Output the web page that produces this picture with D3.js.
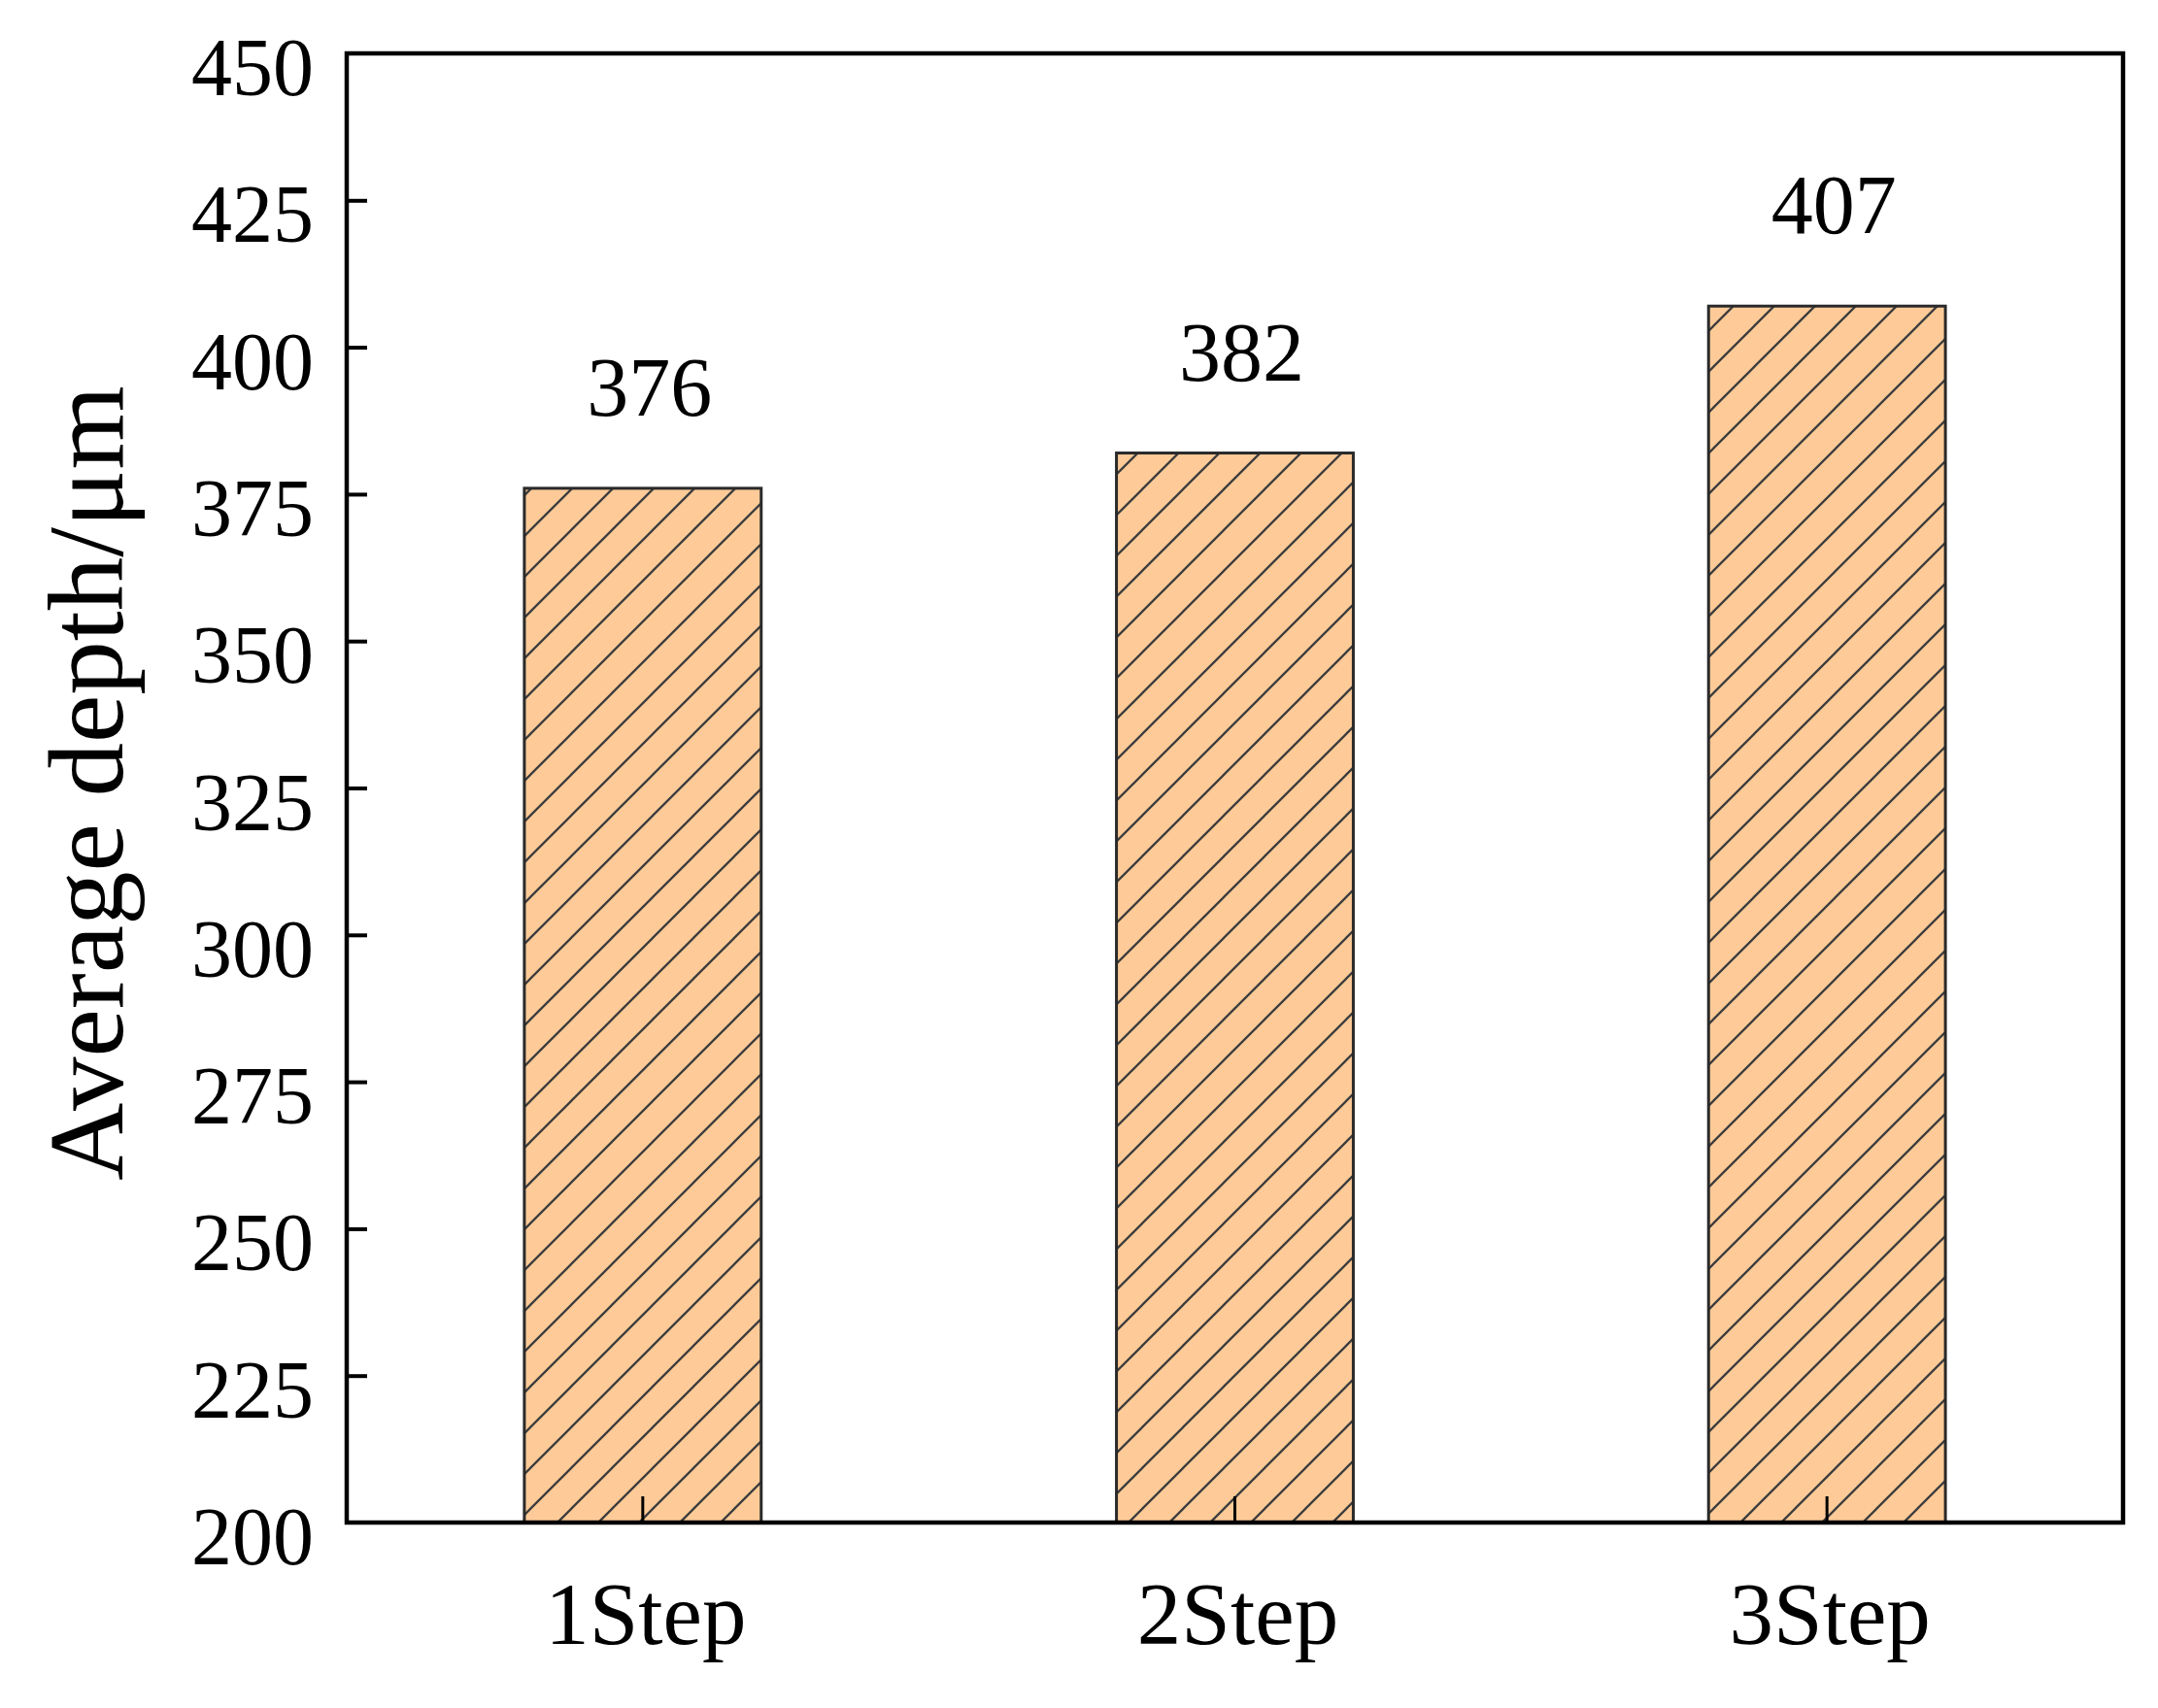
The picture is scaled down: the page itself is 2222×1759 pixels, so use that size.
<!DOCTYPE html>
<html>
<head>
<meta charset="utf-8">
<script src="https://cdn.jsdelivr.net/npm/d3@7"></script>
<style>
  html, body { margin: 0; padding: 0; background: #fff; }
  svg { display: block; }
  text { font-family: "Liberation Serif", "Times New Roman", serif; fill: #000; }
</style>
</head>
<body>
<svg id="chart" width="2222" height="1759"></svg>
<script>
const categories = ["1Step", "2Step", "3Step"];
const values = [376, 382, 407];
const yTicks = [200, 225, 250, 275, 300, 325, 350, 375, 400, 425, 450];
const yLabel = "Average depth/μm";

const W = 2222, H = 1759;
const margin = { left: 357, right: W - 2186, top: 55, bottom: H - 1568 };

const svg = d3.select("#chart");

const x = d3.scaleBand()
  .domain(categories)
  .range([margin.left, W - margin.right])
  .paddingInner(0.6)
  .paddingOuter(0.3);

const y = d3.scaleLinear()
  .domain([200, 450])
  .range([H - margin.bottom, margin.top]);

// hatch pattern
const defs = svg.append("defs");
const pat = defs.append("pattern")
  .attr("id", "hatch")
  .attr("patternUnits", "userSpaceOnUse")
  .attr("width", 42)
  .attr("height", 42);
pat.append("rect").attr("width", 42).attr("height", 42).attr("fill", "#FECB98");
pat.append("path")
  .attr("d", "M-10,52 L52,-10 M-10,10 L10,-10 M32,52 L52,32")
  .attr("stroke", "#3d3d3d")
  .attr("stroke-width", 2.3);

// bars
svg.append("g").selectAll("rect")
  .data(values)
  .join("rect")
  .attr("x", (d, i) => x(categories[i]))
  .attr("width", x.bandwidth())
  .attr("y", d => y(d))
  .attr("height", d => y(200) - y(d))
  .attr("fill", "url(#hatch)")
  .attr("stroke", "#2a2a2a")
  .attr("stroke-width", 3);

// value labels
svg.append("g").selectAll("text")
  .data(values)
  .join("text")
  .attr("x", (d, i) => x(categories[i]) + x.bandwidth() / 2 + 7)
  .attr("y", d => y(d) - 75)
  .attr("text-anchor", "middle")
  .attr("font-size", 86)
  .text(d => d);

// left axis (inward ticks)
const yAxis = d3.axisRight(y)
  .tickValues(yTicks.filter(t => t !== 200 && t !== 450))
  .tickSize(21)
  .tickFormat("");
svg.append("g")
  .attr("transform", `translate(${margin.left},0)`)
  .call(yAxis)
  .call(g => g.select(".domain").remove())
  .call(g => g.selectAll("line").attr("stroke", "#000").attr("stroke-width", 4));

// y tick labels
svg.append("g").selectAll("text")
  .data(yTicks)
  .join("text")
  .attr("x", margin.left - 34)
  .attr("y", d => y(d) + 43)
  .attr("text-anchor", "end")
  .attr("font-size", 84)
  .text(d => d);

// bottom axis (inward ticks at bar centers)
const xAxis = d3.axisTop(x).tickSize(27).tickFormat("");
svg.append("g")
  .attr("transform", `translate(0,${y(200)})`)
  .call(xAxis)
  .call(g => g.select(".domain").remove())
  .call(g => g.selectAll("line").attr("stroke", "#000").attr("stroke-width", 3));

// x labels
svg.append("g").selectAll("text")
  .data(categories)
  .join("text")
  .attr("x", d => x(d) + x.bandwidth() / 2 + 3)
  .attr("y", 1693)
  .attr("text-anchor", "middle")
  .attr("font-size", 91)
  .text(d => d);

// frame
svg.append("rect")
  .attr("x", margin.left)
  .attr("y", margin.top)
  .attr("width", W - margin.right - margin.left)
  .attr("height", y(200) - margin.top)
  .attr("fill", "none")
  .attr("stroke", "#000")
  .attr("stroke-width", 4.5);

// y label
svg.append("text")
  .attr("transform", `translate(126,${(margin.top + y(200)) / 2 - 5}) rotate(-90)`)
  .attr("text-anchor", "middle")
  .attr("font-size", 111)
  .text(yLabel);
</script>
</body>
</html>
